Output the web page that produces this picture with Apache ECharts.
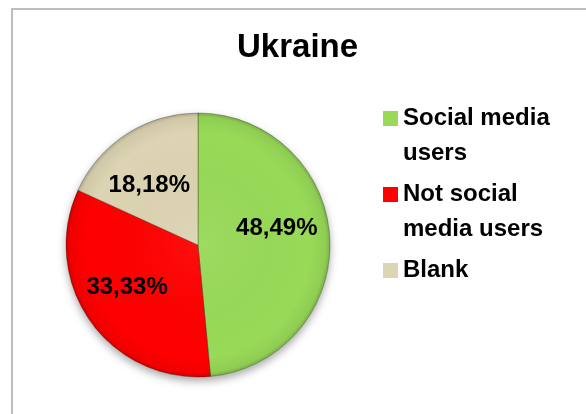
<!DOCTYPE html>
<html>
<head>
<meta charset="utf-8">
<script src="https://cdn.jsdelivr.net/npm/echarts@6/dist/echarts.min.js"></script>
<style>
  html, body { margin: 0; padding: 0; background: #fff; }
  #chart { width: 586px; height: 414px; }
</style>
</head>
<body>
<div id="chart"></div>
<script>
// Share of respondents, Ukraine
const chartTitle = 'Ukraine';
const categories = ['Social media users', 'Not social media users', 'Blank'];
const shares = [48.49, 33.33, 18.18];
const sliceColors = ['#98DA58', '#FF0000', '#DDD4B3'];

const FONT = '"Liberation Sans", Arial, sans-serif';
const LEGEND_FONT = 'bold 24px ' + FONT;
const LEGEND_WRAP = 152;
const pct = v => v.toFixed(2).replace('.', ',') + '%';

const CENTER = [198, 245];
const R = 132;

// legend swatch: a 15px square at the top of a 15x70 box, so it sits beside the first text line
const swatch = 'path://M0,10H15V25H0Z M0,0L0.01,0 M15,70L14.99,70';

// small shifts so each percentage sits where it reads best inside its slice
const labelNudge = [[-2, -13], [-5, -5], [-5, 8]];

// greedy word wrap; every legend entry is padded to two lines so all swatches align with line one
const measureCtx = document.createElement('canvas').getContext('2d');
measureCtx.font = LEGEND_FONT;
function wrapLegend(name) {
  const lines = [];
  let cur = '';
  name.split(' ').forEach(w => {
    const trial = cur ? cur + ' ' + w : w;
    if (cur && measureCtx.measureText(trial).width > LEGEND_WRAP) {
      lines.push(cur);
      cur = w;
    } else {
      cur = trial;
    }
  });
  lines.push(cur);
  while (lines.length < 2) lines.push(' ');
  return lines.join('\n');
}

const chart = echarts.init(document.getElementById('chart'), null, { renderer: 'canvas' });

chart.setOption({
  animation: false,
  backgroundColor: '#fff',
  title: {
    text: chartTitle,
    left: 237,
    top: 31,
    padding: 0,
    textStyle: { fontFamily: FONT, fontSize: 33, fontWeight: 'bold', color: '#000' }
  },
  graphic: [{
    type: 'rect',
    silent: true,
    shape: { x: 12, y: 9, width: 700, height: 500 },
    style: { fill: 'none', stroke: '#A8A8A8', lineWidth: 1.5 }
  }],
  legend: {
    orient: 'vertical',
    left: 383,
    top: 101,
    padding: 0,
    itemWidth: 15,
    itemHeight: 70,
    itemGap: 6,
    selectedMode: false,
    icon: swatch,
    formatter: wrapLegend,
    textStyle: {
      fontFamily: FONT, fontSize: 24, fontWeight: 'bold', color: '#000',
      lineHeight: 35
    },
    data: categories.map((name, i) => ({
      name: name,
      itemStyle: { color: sliceColors[i], borderWidth: 0, shadowBlur: 0 }
    }))
  },
  series: [
    // soft drop shadow under the whole pie
    {
      type: 'pie', silent: true, center: CENTER, radius: R, z: 1,
      label: { show: false }, labelLine: { show: false },
      itemStyle: { color: '#fff', shadowBlur: 8, shadowOffsetY: 4, shadowColor: 'rgba(0,0,0,0.35)' },
      data: [{ name: '_shadow', value: 1 }]
    },
    // the slices
    {
      type: 'pie', silent: true, center: CENTER, radius: R, z: 2,
      startAngle: 90, clockwise: true,
      label: { show: false }, labelLine: { show: false },
      itemStyle: { borderColor: 'rgba(0,0,0,0.28)', borderWidth: 1 },
      data: categories.map((name, i) => ({ name: name, value: shares[i], itemStyle: { color: sliceColors[i] } }))
    },
    // rim shading over the pie
    {
      type: 'pie', silent: true, center: CENTER, radius: R, z: 3,
      label: { show: false }, labelLine: { show: false },
      itemStyle: {
        color: {
          type: 'radial', x: 0.5, y: 0.5, r: 0.5,
          colorStops: [
            { offset: 0, color: 'rgba(255,255,255,0.06)' },
            { offset: 0.85, color: 'rgba(0,0,0,0)' },
            { offset: 0.97, color: 'rgba(0,0,0,0.06)' },
            { offset: 1, color: 'rgba(0,0,0,0.2)' }
          ]
        }
      },
      data: [{ name: '_rim', value: 1 }]
    },
    // percentage labels (transparent ring, wider radius to push labels outward)
    {
      type: 'pie', silent: true, center: CENTER, radius: R * 1.18, z: 4,
      startAngle: 90, clockwise: true,
      itemStyle: { color: 'rgba(0,0,0,0)' },
      labelLine: { show: false },
      label: {
        show: true, position: 'inside',
        fontFamily: FONT, fontSize: 24, fontWeight: 'bold', color: '#000',
        formatter: p => pct(p.value)
      },
      data: categories.map((name, i) => ({
        name: name, value: shares[i],
        label: { offset: labelNudge[i] }
      }))
    }
  ]
});
</script>
</body>
</html>
